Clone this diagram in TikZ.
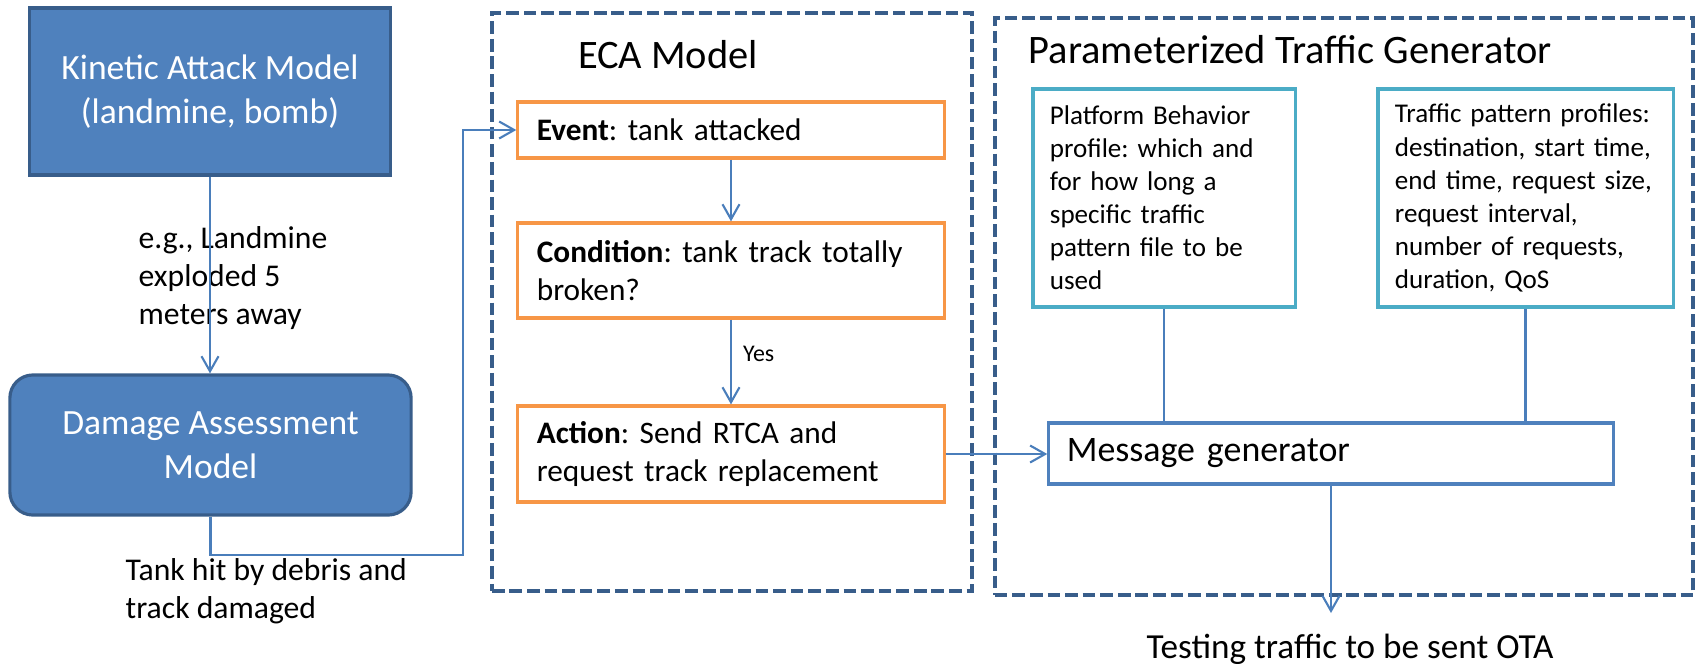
\documentclass[tikz,border=0pt]{standalone}
\usepackage{fontspec}
\setmainfont{Carlito}
\frenchspacing
\usetikzlibrary{positioning,arrows.meta}
\definecolor{boxblue}{HTML}{4F81BD}
\definecolor{darkblue}{HTML}{385D8A}
\definecolor{linkblue}{HTML}{4A7EBB}
\definecolor{ecaorange}{HTML}{F79646}
\definecolor{profteal}{HTML}{4BACC6}

\begin{document}
\begin{tikzpicture}[x=0.01cm, y=-0.01cm,
    model/.style={draw=darkblue, fill=boxblue, line width=0.9pt, text=white, align=center,
                  font=\fontsize{10.1}{12.6}\selectfont},
    ecabox/.style={draw=ecaorange, line width=0.9pt, minimum width=4.26cm, text width=3.88cm,
                   inner xsep=0.19cm, align=left, font=\fontsize{8.9}{10.7}\selectfont},
    profbox/.style={draw=profteal, line width=0.9pt, minimum height=2.18cm, inner xsep=0.17cm,
                    align=left, font=\fontsize{7.7}{9.4}\selectfont},
    frame/.style={draw=darkblue, line width=1.15pt, dash pattern=on 3.6pt off 1.4pt},
    title/.style={inner sep=0pt, font=\fontsize{11.5}{13}\selectfont},
    note/.style={align=left, inner sep=0pt, font=\fontsize{9}{10.8}\selectfont},
    conn/.style={draw=linkblue, line width=0.6pt},
    arr/.style={conn, -{Straight Barb[length=0.15cm, width=0.17cm]}}]
  \useasboundingbox (0,0) rectangle (1696,663);

  \node[frame, minimum width=4.8cm, minimum height=5.78cm] (ecaframe) at (732,302) {};
  \node[frame, minimum width=6.98cm, minimum height=5.77cm] (ptgframe) at (1344,306.5) {};
  \node[title] (ecatitle) at (668,55) {ECA Model};
  \node[title, anchor=west] (ptgtitle) at (1028,50) {Parameterized Traffic Generator};

  \node[model, minimum width=3.6cm, minimum height=1.67cm] (kam) at (210,91.5)
       {Kinetic Attack Model\\(landmine, bomb)};
  \node[model, rounded corners=0.23cm, minimum width=4.01cm, minimum height=1.4cm] (dam) at (210.5,445)
       {Damage Assessment\\Model};
  \node[note, anchor=west] (eg) at (138,278.5) {e.g., Landmine\\exploded 5\\meters away};
  \node[note, anchor=west] (hit) at (125,591) {Tank hit by debris and\\track damaged};

  \node[ecabox, minimum height=0.56cm] (event) at (731,130) {\textbf{Event}: tank attacked};
  \node[ecabox, minimum height=0.95cm] (cond) at (731,270.5)
       {\textbf{Condition}: tank track totally\\broken?};
  \node[ecabox, minimum height=0.96cm] (act) at (731,454)
       {\textbf{Action}: Send RTCA and\\request track replacement};

  \node[profbox, minimum width=2.62cm, text width=2.28cm] (plat) at (1164,198)
       {Platform Behavior\\profile: which and\\for how long a\\specific traffic\\pattern file to be\\used};
  \node[profbox, minimum width=2.95cm, text width=2.61cm] (traf) at (1525.5,198)
       {Traffic pattern profiles:\\destination, start time,\\end time, request size,\\request interval,\\number of requests,\\duration, QoS};
  \node[draw=boxblue, line width=0.9pt, minimum width=5.64cm, minimum height=0.61cm, text width=5.28cm,
        inner xsep=0.18cm, align=left, font=\fontsize{10.2}{12}\selectfont] (msg) at (1331,453.5)
       {Message generator};
  \node[anchor=base, inner sep=0pt, font=\fontsize{10}{12}\selectfont] (ota) at (1350,658)
       {Testing traffic to be sent OTA};

  \coordinate (turn) at (463,555);
  \coordinate (otatip) at (1331,613);
  \draw[arr] (kam.south) -- (kam.south |- dam.north);
  \draw[arr] (dam.south) |- (turn) |- (event.west);
  \draw[arr] (event) -- (cond);
  \draw[arr] (cond) -- node[pos=0.4, right=0.11cm, inner sep=0pt, font=\fontsize{6.8}{8}\selectfont] (yes) {Yes} (act);
  \draw[arr] (act.east) -- (act.east -| msg.west);
  \draw[conn] (plat.south) -- (plat.south |- msg.north);
  \draw[conn] (traf.south) -- (traf.south |- msg.north);
  \draw[arr] (msg.south) -- (otatip);
\end{tikzpicture}
\end{document}
